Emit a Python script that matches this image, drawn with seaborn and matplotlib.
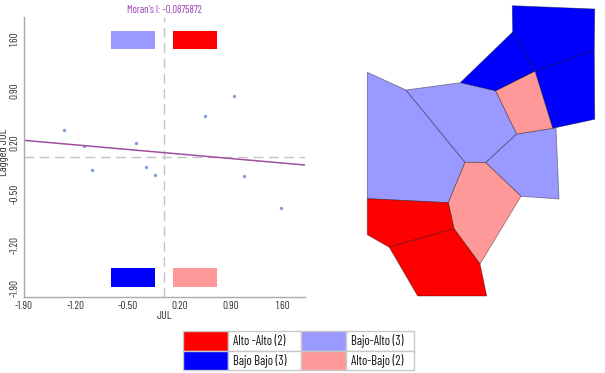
import matplotlib
matplotlib.use("Agg")
import matplotlib.pyplot as plt
from matplotlib.patches import Polygon, Rectangle
import pandas as pd
import seaborn as sns

# moran scatter values
jul = [-1.355, -1.085, -0.976, -0.381, -0.246, -0.124, 0.552, 0.940, 1.075, 1.575]
lagged_jul = [0.37, 0.145, -0.173, 0.19, -0.14, -0.245, 0.55, 0.823, -0.258, -0.697]
fit_x = [-1.9, 1.9]
fit_y = [0.226, -0.109]
ticks = [-1.9, -1.2, -0.5, 0.2, 0.9, 1.6]

bajo_bajo = [
    [(512.3, 5.7), (594.7, 9), (594.3, 50), (535, 71.3), (512.7, 32)],
    [(512.7, 32), (535, 71.3), (495.7, 91), (460.3, 82.7)],
    [(535, 71.3), (594.3, 50), (594.7, 119.3), (552.7, 128.3)],
]
bajo_alto = [
    [(367.3, 72.3), (406, 90), (465, 162.3), (448.3, 202.7), (367.3, 198.7)],
    [(406, 90), (460.3, 82.7), (495.7, 91), (516.7, 134), (485.7, 162.7), (465, 162.3)],
    [(516.7, 134), (552.7, 128.3), (556, 128.3), (559, 199), (521, 196.3), (485.7, 162.7)],
]
alto_bajo = [
    [(495.7, 91), (535, 71.3), (552.7, 128.3), (516.7, 134)],
    [(465, 162.3), (485.7, 162.7), (521, 196.3), (480, 264), (454, 228.7), (448.3, 202.7)],
]
alto_alto = [
    [(367.3, 198.7), (448.3, 202.7), (454, 228.7), (389.3, 247.3), (367.3, 234.7)],
    [(389.3, 247.3), (454, 228.7), (480, 264), (486.7, 296), (417.7, 296)],
]

RED = "#ff0000"
BLUE = "#0000ff"
LILAC = "#9999ff"
PINK = "#ff9999"
LEGEND_LABELS = ["Alto -Alto (2)", "Bajo-Alto (3)", "Bajo Bajo (3)", "Alto-Bajo (2)"]

sns.set_theme(style="white")
plt.rcParams["font.family"] = ["Barlow Condensed", "Roboto Condensed", "Roboto", "DejaVu Sans"]

fig = plt.figure(figsize=(6.05, 3.73), dpi=100)

# full figure axes for the map and the legend table
ax_map = fig.add_axes([0, 0, 1, 1])
ax_map.set_xlim(0, 605)
ax_map.set_ylim(373, 0)
ax_map.axis("off")

for polys, col in [(bajo_bajo, BLUE), (bajo_alto, LILAC), (alto_bajo, PINK), (alto_alto, RED)]:
    for p in polys:
        ax_map.add_patch(Polygon(p, closed=True, facecolor=col, edgecolor="#00000066", linewidth=0.6))

# legend table
swatches = [(183.3, 331.3, RED), (301.3, 331.3, LILAC), (183.3, 350.7, BLUE), (301.3, 350.7, PINK)]
for (x0, y0, col), label in zip(swatches, LEGEND_LABELS):
    ax_map.add_patch(Rectangle((x0, y0), 44.4, 19.4, facecolor=col, edgecolor="#c8c8c8", linewidth=1))
    ax_map.add_patch(Rectangle((x0 + 44.4, y0), 68.5 if x0 > 300 else 73.6, 19.4, facecolor="white", edgecolor="#c8c8c8", linewidth=1))
    ax_map.text(x0 + 49.5, y0 + 10, label, fontsize=9.2, color="#111111", va="center", ha="left")

# moran scatter
ax = fig.add_axes([24 / 605, 1 - 297 / 373, 281 / 605, 280 / 373])
ax.patch.set_alpha(0)

df = pd.DataFrame({"JUL": jul, "Lagged JUL": lagged_jul})
fit = pd.DataFrame({"JUL": fit_x, "Lagged JUL": fit_y})

ax.axvline(0, color="#c4c4c4", linewidth=1, dashes=(7, 4))
ax.axhline(0, color="#c4c4c4", linewidth=1, dashes=(7, 4))
sns.lineplot(data=fit, x="JUL", y="Lagged JUL", color="#a04fa0", linewidth=1.1, ax=ax)
sns.scatterplot(data=df, x="JUL", y="Lagged JUL", color="#7f9fe0", s=6, linewidth=0, ax=ax)

# quadrant swatches
for x0, y0, col in [(-0.728, 1.461, LILAC), (0.115, 1.461, RED), (-0.728, -1.764, BLUE), (0.115, -1.764, PINK)]:
    ax.add_patch(Rectangle((x0, y0), 0.595, 0.252, facecolor=col, edgecolor="none"))

ax.set_xlim(-1.9, 1.9)
ax.set_ylim(-1.9, 1.9)
ax.set_xticks(ticks)
ax.set_yticks(ticks)
ax.set_xticklabels([f"{t:.2f}" for t in ticks], fontsize=8, color="#333333")
ax.set_yticklabels([f"{t:.2f}" for t in ticks], fontsize=8, color="#333333", rotation=90, va="center")
ax.get_yticklabels()[0].set_va("bottom")  # keeps clear of the x label at the corner
ax.tick_params(length=0, pad=3)
sns.despine(ax=ax)
for s in ["left", "bottom"]:
    ax.spines[s].set_color("#aaaaaa")
    ax.spines[s].set_linewidth(1)

ax.set_xlabel("JUL", fontsize=8.5, color="#333333", labelpad=0)
ax.set_ylabel("Lagged JUL", fontsize=8.5, color="#333333", labelpad=2)
ax.yaxis.set_label_coords(-0.055, 0.515)
ax.set_title("Moran's I: -0.0875872", fontsize=7.6, color="#9a3fb5", pad=3)

fig.savefig("out.png", dpi=100)
